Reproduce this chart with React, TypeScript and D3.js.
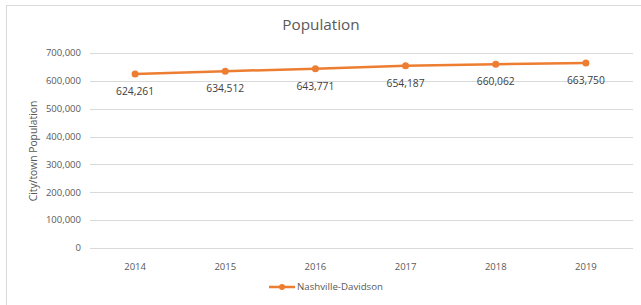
import React, { useEffect, useRef } from "react";
import * as d3 from "d3";

// chart data
const years = ["2014", "2015", "2016", "2017", "2018", "2019"];
const population = [624261, 634512, 643771, 654187, 660062, 663750];
const yTicks = [0, 100000, 200000, 300000, 400000, 500000, 600000, 700000];
const seriesName = "Nashville-Davidson";

const App = () => {
  const chartRef = useRef<SVGSVGElement>(null);

  useEffect(() => {
    const width = 641;
    const height = 305;
    const margin = { top: 53, right: 10, bottom: 57, left: 90 };
    const font = "'Open Sans', 'DejaVu Sans', sans-serif";
    const orange = "#ED7D31";

    const svg = d3.select(chartRef.current);
    svg.selectAll("*").remove();

    // background + chart border (only top/left visible in the crop)
    svg.append("rect").attr("width", width).attr("height", height).attr("fill", "#fff");
    svg
      .append("rect")
      .attr("x", 6.5)
      .attr("y", 5.5)
      .attr("width", width + 10)
      .attr("height", height + 10)
      .attr("fill", "none")
      .attr("stroke", "#d9d9d9");

    const x = d3
      .scaleBand()
      .domain(years)
      .range([margin.left, 631]);

    const y = d3
      .scaleLinear()
      .domain([0, 700000])
      .range([height - margin.bottom, margin.top]);

    // gridlines
    svg
      .append("g")
      .selectAll("line")
      .data(yTicks)
      .join("line")
      .attr("x1", margin.left)
      .attr("x2", 633)
      .attr("y1", (d) => Math.round(y(d)) + 0.5)
      .attr("y2", (d) => Math.round(y(d)) + 0.5)
      .attr("stroke", "#d9d9d9")
      .attr("stroke-width", 1);

    // y tick labels
    svg
      .append("g")
      .selectAll("text")
      .data(yTicks)
      .join("text")
      .attr("x", 81)
      .attr("y", (d) => y(d))
      .attr("dy", "0.35em")
      .attr("text-anchor", "end")
      .attr("font-family", font)
      .attr("font-size", 9.5)
      .attr("fill", "#595959")
      .text((d) => d3.format(",")(d));

    // x tick labels
    svg
      .append("g")
      .selectAll("text")
      .data(years)
      .join("text")
      .attr("x", (d) => (x(d) as number) + x.bandwidth() / 2)
      .attr("y", 267)
      .attr("dy", "0.35em")
      .attr("text-anchor", "middle")
      .attr("font-family", font)
      .attr("font-size", 9.5)
      .attr("fill", "#595959")
      .text((d) => d);

    // title
    svg
      .append("text")
      .attr("x", 321)
      .attr("y", 25)
      .attr("dy", "0.35em")
      .attr("text-anchor", "middle")
      .attr("font-family", font)
      .attr("font-size", 15.3)
      .attr("fill", "#595959")
      .text("Population");

    // y axis title
    svg
      .append("text")
      .attr("transform", `translate(33,151) rotate(-90)`)
      .attr("dy", "0.35em")
      .attr("text-anchor", "middle")
      .attr("font-family", font)
      .attr("font-size", 10.3)
      .attr("fill", "#595959")
      .text("City/town Population");

    const cx = (d: string) => (x(d) as number) + x.bandwidth() / 2;

    // series line
    const line = d3
      .line<number>()
      .x((d, i) => cx(years[i]))
      .y((d) => y(d));

    svg
      .append("path")
      .datum(population)
      .attr("d", line)
      .attr("fill", "none")
      .attr("stroke", orange)
      .attr("stroke-width", 2.5)
      .attr("stroke-linejoin", "round");

    svg
      .append("g")
      .selectAll("circle")
      .data(population)
      .join("circle")
      .attr("cx", (d, i) => cx(years[i]))
      .attr("cy", (d) => y(d))
      .attr("r", 3.5)
      .attr("fill", orange);

    // data labels
    svg
      .append("g")
      .selectAll("text")
      .data(population)
      .join("text")
      .attr("x", (d, i) => cx(years[i]))
      .attr("y", (d) => y(d) + 17.5)
      .attr("dy", "0.35em")
      .attr("text-anchor", "middle")
      .attr("font-family", font)
      .attr("font-size", 10.3)
      .attr("fill", "#404040")
      .text((d) => d3.format(",")(d));

    // legend
    const legend = svg.append("g").attr("transform", "translate(269,287)");
    legend
      .append("line")
      .attr("x1", 0)
      .attr("x2", 26)
      .attr("stroke", orange)
      .attr("stroke-width", 2.5);
    legend.append("circle").attr("cx", 13).attr("r", 3).attr("fill", orange);
    legend
      .append("text")
      .attr("x", 28)
      .attr("dy", "0.35em")
      .attr("font-family", font)
      .attr("font-size", 9.7)
      .attr("fill", "#595959")
      .text(seriesName);
  }, []);

  return (
    <svg
      ref={chartRef}
      width={641}
      height={305}
      style={{ position: "absolute", left: 0, top: 0, display: "block" }}
    />
  );
};

export default App;
